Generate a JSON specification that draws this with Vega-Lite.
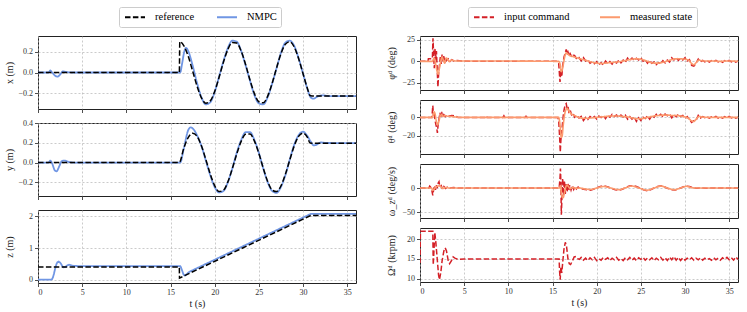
{
 "$schema": "https://vega.github.io/schema/vega-lite/v6.json",
 "padding": {"left": 3, "top": 6, "right": 5, "bottom": 4},
 "config": {
  "font": "Liberation Serif",
  "view": {"stroke": "#222", "strokeWidth": 1},
  "axis": {"grid": true, "gridDash": [2, 2], "gridColor": "#b5b5b5", "gridWidth": 0.7, "domain": false, "tickColor": "#222", "tickSize": 3.5, "tickWidth": 0.8, "labelFontSize": 8, "labelColor": "#333", "labelOverlap": false, "titleFontSize": 10, "titleFontWeight": "normal", "titleColor": "#222"},
  "axisY": {"minExtent": 21, "maxExtent": 21, "titlePadding": 3, "labelPadding": 2},
  "axisX": {"labelPadding": 2, "titlePadding": 2},
  "legend": {"orient": "none", "direction": "horizontal", "title": null, "symbolType": "M-2,0H2", "symbolSize": 100, "symbolStrokeWidth": 1.8, "labelFontSize": 10.5, "labelFontWeight": "normal", "labelColor": "#000", "padding": 4, "strokeColor": "#cccccc", "fillColor": "#ffffff", "cornerRadius": 2, "columnPadding": 18, "labelOffset": 14, "symbolOffset": 6}
 },
 "datasets": {
  "xr": [{"t":0,"v":0},{"t":16,"v":0},{"t":16.05,"v":0.3},{"t":16.5,"v":0.262},{"t":17,"v":0.159},{"t":17.5,"v":0.016},{"t":18,"v":-0.131},{"t":18.5,"v":-0.246},{"t":19,"v":-0.298},{"t":19.5,"v":-0.276},{"t":20,"v":-0.185},{"t":20.5,"v":-0.047},{"t":21,"v":0.103},{"t":21.5,"v":0.226},{"t":22,"v":0.293},{"t":22.5,"v":0.287},{"t":23,"v":0.208},{"t":23.5,"v":0.078},{"t":24,"v":-0.073},{"t":24.5,"v":-0.205},{"t":25,"v":-0.285},{"t":25.5,"v":-0.295},{"t":26,"v":-0.23},{"t":26.5,"v":-0.107},{"t":27,"v":0.042},{"t":27.5,"v":0.181},{"t":28,"v":0.274},{"t":28.5,"v":0.299},{"t":29,"v":0.249},{"t":29.5,"v":0.136},{"t":30,"v":-0.01},{"t":30.5,"v":-0.155},{"t":30.8,"v":-0.224},{"t":31,"v":-0.228},{"t":36,"v":-0.228}],
  "xn": [{"t":0,"v":0},{"t":1.2,"v":0},{"t":1.4,"v":0.02},{"t":1.6,"v":0},{"t":2.0,"v":-0.035},{"t":2.2,"v":-0.04},{"t":2.5,"v":-0.02},{"t":2.8,"v":0.01},{"t":3.2,"v":0.005},{"t":4,"v":0},{"t":16.1,"v":0},{"t":16.3,"v":0.08},{"t":16.55,"v":0.2},{"t":16.75,"v":0.24},{"t":17,"v":0.21},{"t":17.5,"v":0.07},{"t":18,"v":-0.1},{"t":18.5,"v":-0.24},{"t":19,"v":-0.31},{"t":19.5,"v":-0.29},{"t":20,"v":-0.19},{"t":20.5,"v":-0.04},{"t":21,"v":0.11},{"t":21.5,"v":0.24},{"t":22,"v":0.31},{"t":22.5,"v":0.3},{"t":23,"v":0.21},{"t":23.5,"v":0.07},{"t":24,"v":-0.08},{"t":24.5,"v":-0.22},{"t":25,"v":-0.3},{"t":25.5,"v":-0.31},{"t":26,"v":-0.24},{"t":26.5,"v":-0.11},{"t":27,"v":0.04},{"t":27.5,"v":0.19},{"t":28,"v":0.29},{"t":28.5,"v":0.31},{"t":29,"v":0.26},{"t":29.5,"v":0.14},{"t":30,"v":-0.01},{"t":30.5,"v":-0.16},{"t":30.9,"v":-0.245},{"t":31.2,"v":-0.255},{"t":31.6,"v":-0.235},{"t":32.2,"v":-0.222},{"t":33,"v":-0.23},{"t":36,"v":-0.23}],
  "yr": [{"t":0,"v":0},{"t":16,"v":0},{"t":16.5,"v":0.145},{"t":17,"v":0.254},{"t":17.5,"v":0.3},{"t":18,"v":0.27},{"t":18.5,"v":0.172},{"t":19,"v":0.031},{"t":19.5,"v":-0.117},{"t":20,"v":-0.236},{"t":20.5,"v":-0.296},{"t":21,"v":-0.282},{"t":21.5,"v":-0.197},{"t":22,"v":-0.062},{"t":22.5,"v":0.088},{"t":23,"v":0.216},{"t":23.5,"v":0.29},{"t":24,"v":0.291},{"t":24.5,"v":0.219},{"t":25,"v":0.093},{"t":25.5,"v":-0.057},{"t":26,"v":-0.193},{"t":26.5,"v":-0.28},{"t":27,"v":-0.297},{"t":27.5,"v":-0.24},{"t":28,"v":-0.122},{"t":28.5,"v":0.026},{"t":29,"v":0.168},{"t":29.5,"v":0.267},{"t":30,"v":0.3},{"t":30.5,"v":0.257},{"t":30.8,"v":0.199},{"t":31,"v":0.198},{"t":36,"v":0.198}],
  "yn": [{"t":0,"v":0},{"t":1.2,"v":0},{"t":1.4,"v":0.02},{"t":1.6,"v":-0.01},{"t":1.9,"v":-0.08},{"t":2.1,"v":-0.09},{"t":2.4,"v":-0.04},{"t":2.7,"v":0.015},{"t":3.0,"v":0.02},{"t":3.5,"v":0.005},{"t":4,"v":0},{"t":16.1,"v":0},{"t":16.5,"v":0.14},{"t":17,"v":0.33},{"t":17.3,"v":0.36},{"t":17.6,"v":0.34},{"t":18,"v":0.28},{"t":18.5,"v":0.17},{"t":19,"v":0.02},{"t":19.5,"v":-0.13},{"t":20,"v":-0.25},{"t":20.5,"v":-0.305},{"t":21,"v":-0.29},{"t":21.5,"v":-0.2},{"t":22,"v":-0.06},{"t":22.5,"v":0.1},{"t":23,"v":0.23},{"t":23.5,"v":0.31},{"t":24,"v":0.31},{"t":24.5,"v":0.23},{"t":25,"v":0.1},{"t":25.5,"v":-0.06},{"t":26,"v":-0.2},{"t":26.5,"v":-0.29},{"t":27,"v":-0.31},{"t":27.5,"v":-0.25},{"t":28,"v":-0.13},{"t":28.5,"v":0.03},{"t":29,"v":0.18},{"t":29.5,"v":0.28},{"t":30,"v":0.315},{"t":30.5,"v":0.27},{"t":30.9,"v":0.21},{"t":31.2,"v":0.175},{"t":31.5,"v":0.18},{"t":32,"v":0.205},{"t":32.6,"v":0.2},{"t":36,"v":0.198}],
  "zr": [{"t":0,"v":0.4},{"t":16,"v":0.4},{"t":16.02,"v":0.05},{"t":30.9,"v":2.03},{"t":36,"v":2.03}],
  "zn": [{"t":0,"v":0},{"t":1.5,"v":0},{"t":1.6,"v":0.02},{"t":1.7,"v":0.08},{"t":1.8,"v":0.18},{"t":1.9,"v":0.3},{"t":2.0,"v":0.41},{"t":2.1,"v":0.5},{"t":2.2,"v":0.55},{"t":2.35,"v":0.57},{"t":2.5,"v":0.54},{"t":2.6,"v":0.5},{"t":2.75,"v":0.43},{"t":2.9,"v":0.39},{"t":3.1,"v":0.4},{"t":3.3,"v":0.45},{"t":3.5,"v":0.47},{"t":3.7,"v":0.46},{"t":3.9,"v":0.44},{"t":4.5,"v":0.43},{"t":16.1,"v":0.43},{"t":16.2,"v":0.38},{"t":16.3,"v":0.3},{"t":16.45,"v":0.18},{"t":16.55,"v":0.14},{"t":16.65,"v":0.13},{"t":16.75,"v":0.15},{"t":16.9,"v":0.19},{"t":17,"v":0.22},{"t":17.3,"v":0.27},{"t":30.9,"v":2.08},{"t":36,"v":2.08}],
  "pc": [{"t":0,"v":0},{"t":0.9,"v":0},{"t":0.95,"v":3},{"t":1.4,"v":3},{"t":1.47,"v":27},{"t":1.55,"v":5},{"t":1.62,"v":-8},{"t":1.7,"v":15},{"t":1.78,"v":2},{"t":1.86,"v":12},{"t":1.95,"v":-10},{"t":2.03,"v":-30},{"t":2.12,"v":-12},{"t":2.2,"v":-5},{"t":2.3,"v":5},{"t":2.4,"v":-3},{"t":2.5,"v":8},{"t":2.6,"v":0},{"t":2.7,"v":6},{"t":2.8,"v":-2},{"t":2.9,"v":5},{"t":3.0,"v":1},{"t":3.2,"v":3},{"t":3.4,"v":0},{"t":3.6,"v":2},{"t":3.8,"v":0.5},{"t":4.2,"v":1},{"t":5,"v":0.3},{"t":15.5,"v":0},{"t":15.7,"v":-2},{"t":15.85,"v":-24},{"t":15.95,"v":-10},{"t":16.05,"v":-18},{"t":16.15,"v":-5},{"t":16.3,"v":5},{"t":16.45,"v":10},{"t":16.55,"v":14},{"t":16.65,"v":8},{"t":16.75,"v":11},{"t":16.9,"v":6},{"t":17.0,"v":9},{"t":17.2,"v":5},{"t":17.35,"v":7},{"t":17.5,"v":6.8},{"t":17.75,"v":2.6},{"t":18,"v":4.4},{"t":18.25,"v":0.6},{"t":18.5,"v":4.3},{"t":18.75,"v":0.4},{"t":19,"v":1.9},{"t":19.25,"v":-2.1},{"t":19.5,"v":-0.4},{"t":19.75,"v":-2.7},{"t":20,"v":-0.2},{"t":20.25,"v":-3.8},{"t":20.5,"v":-1.6},{"t":20.75,"v":-4.3},{"t":21,"v":0.3},{"t":21.25,"v":-2.5},{"t":21.5,"v":-0.1},{"t":21.75,"v":-3.1},{"t":22,"v":-0.4},{"t":22.25,"v":-1.9},{"t":22.5,"v":1.3},{"t":22.75,"v":-1.6},{"t":23,"v":1.4},{"t":23.25,"v":-1.1},{"t":23.5,"v":3.8},{"t":23.75,"v":1.2},{"t":24,"v":3.9},{"t":24.25,"v":0.85},{"t":24.5,"v":3.6},{"t":24.75,"v":1.55},{"t":25,"v":4.3},{"t":25.25,"v":0.15},{"t":25.5,"v":1.9},{"t":25.75,"v":-2.1},{"t":26,"v":1.3},{"t":26.25,"v":-2.3},{"t":26.5,"v":-0.6},{"t":26.75,"v":-3.9},{"t":27,"v":-1.4},{"t":27.25,"v":-2.7},{"t":27.5,"v":0.8},{"t":27.75,"v":-1.85},{"t":28,"v":1.4},{"t":28.25,"v":-0.85},{"t":28.5,"v":4.3},{"t":28.75,"v":1.7},{"t":29,"v":4.4},{"t":29.25,"v":1.1},{"t":29.5,"v":3.6},{"t":29.75,"v":1.55},{"t":30,"v":4.3},{"t":30.25,"v":0.4},{"t":30.5,"v":2.1},{"t":30.75,"v":-4.6},{"t":31,"v":-5.5},{"t":31.25,"v":-2.3},{"t":31.5,"v":2.6},{"t":31.75,"v":-0.8},{"t":32,"v":1.2},{"t":32.25,"v":-0.5},{"t":32.5,"v":1.0},{"t":32.75,"v":-0.9},{"t":33,"v":0.8},{"t":33.25,"v":-0.4},{"t":33.5,"v":1.1},{"t":33.75,"v":-0.7},{"t":34,"v":0.6},{"t":34.25,"v":-1.0},{"t":34.5,"v":0.9},{"t":34.75,"v":-0.3},{"t":35,"v":1.2},{"t":35.25,"v":-0.6},{"t":35.5,"v":0.8},{"t":35.75,"v":-0.9},{"t":36,"v":0.4}],
  "pm": [{"t":0,"v":0},{"t":1.4,"v":0},{"t":1.5,"v":2},{"t":1.6,"v":4},{"t":1.75,"v":-2},{"t":1.9,"v":-10},{"t":2.05,"v":-15},{"t":2.2,"v":-8},{"t":2.35,"v":0},{"t":2.5,"v":5},{"t":2.65,"v":1},{"t":2.8,"v":-2},{"t":2.95,"v":4},{"t":3.1,"v":3},{"t":3.3,"v":0},{"t":3.6,"v":1.5},{"t":4,"v":0.5},{"t":5,"v":0.5},{"t":15.7,"v":0},{"t":15.85,"v":-3},{"t":16.0,"v":-12},{"t":16.1,"v":-10},{"t":16.25,"v":-2},{"t":16.4,"v":6},{"t":16.55,"v":10},{"t":16.7,"v":9},{"t":16.9,"v":7},{"t":17.2,"v":6},{"t":17.5,"v":5},{"t":18,"v":3.5},{"t":18.5,"v":2},{"t":19,"v":0.5},{"t":19.5,"v":-1},{"t":20,"v":-2},{"t":20.5,"v":-2.5},{"t":21,"v":-2},{"t":21.5,"v":-1.5},{"t":22,"v":-1},{"t":22.5,"v":-0.5},{"t":23,"v":0.5},{"t":23.5,"v":1.5},{"t":24,"v":2.5},{"t":24.5,"v":3},{"t":25,"v":2.5},{"t":25.5,"v":1},{"t":26,"v":-1},{"t":26.5,"v":-2},{"t":27,"v":-2},{"t":27.5,"v":-1},{"t":28,"v":0.5},{"t":28.5,"v":2},{"t":29,"v":3},{"t":29.5,"v":3},{"t":30,"v":2.5},{"t":30.4,"v":1.5},{"t":30.7,"v":-2},{"t":31.0,"v":-4},{"t":31.3,"v":-1},{"t":31.6,"v":1.5},{"t":32,"v":0.5},{"t":33,"v":0.5},{"t":34,"v":0},{"t":35,"v":0.5},{"t":36,"v":0}],
  "tc": [{"t":0,"v":0},{"t":1.35,"v":0},{"t":1.45,"v":13},{"t":1.52,"v":2},{"t":1.6,"v":6},{"t":1.7,"v":-3},{"t":1.8,"v":-8},{"t":1.9,"v":-12},{"t":1.97,"v":-17},{"t":2.05,"v":-8},{"t":2.15,"v":-2},{"t":2.25,"v":5},{"t":2.35,"v":1},{"t":2.45,"v":6},{"t":2.55,"v":0},{"t":2.7,"v":3},{"t":2.85,"v":1},{"t":3.0,"v":2.5},{"t":3.3,"v":1.5},{"t":3.6,"v":2},{"t":4.0,"v":1.5},{"t":4.3,"v":0},{"t":7.4,"v":0},{"t":7.5,"v":1.5},{"t":7.6,"v":0},{"t":9.4,"v":0},{"t":9.5,"v":1.8},{"t":9.6,"v":0},{"t":11.9,"v":0},{"t":12.0,"v":1.2},{"t":12.1,"v":0},{"t":15.6,"v":0},{"t":15.7,"v":-3},{"t":15.8,"v":-20},{"t":15.88,"v":-38},{"t":15.95,"v":-25},{"t":16.05,"v":-15},{"t":16.15,"v":-5},{"t":16.25,"v":5},{"t":16.35,"v":10},{"t":16.45,"v":14},{"t":16.55,"v":15},{"t":16.65,"v":10},{"t":16.75,"v":12},{"t":16.85,"v":6},{"t":17.0,"v":8},{"t":17.15,"v":3},{"t":17.3,"v":5},{"t":17.5,"v":0.1},{"t":17.75,"v":2.2},{"t":18,"v":-0.7},{"t":18.25,"v":1.1},{"t":18.5,"v":-3.4},{"t":18.75,"v":-0.1},{"t":19,"v":-2.3},{"t":19.25,"v":0.95},{"t":19.5,"v":-1.0},{"t":19.75,"v":0.85},{"t":20,"v":-1.9},{"t":20.25,"v":1.45},{"t":20.5,"v":-0.2},{"t":20.75,"v":2.35},{"t":21,"v":-1.4},{"t":21.25,"v":2.15},{"t":21.5,"v":0.2},{"t":21.75,"v":3.2},{"t":22,"v":1.0},{"t":22.25,"v":2.6},{"t":22.5,"v":-0.4},{"t":22.75,"v":2.45},{"t":23,"v":0.3},{"t":23.25,"v":2.35},{"t":23.5,"v":-1.9},{"t":23.75,"v":0.9},{"t":24,"v":-1.8},{"t":24.25,"v":0.7},{"t":24.5,"v":-4.5},{"t":24.75,"v":-0.4},{"t":25,"v":-3.4},{"t":25.25,"v":0.2},{"t":25.5,"v":-1.2},{"t":25.75,"v":1.6},{"t":26,"v":-1.9},{"t":26.25,"v":1.9},{"t":26.5,"v":0.2},{"t":26.75,"v":3.45},{"t":27,"v":1.5},{"t":27.25,"v":3.35},{"t":27.5,"v":0.6},{"t":27.75,"v":3.7},{"t":28,"v":1.8},{"t":28.25,"v":3.85},{"t":28.5,"v":-0.4},{"t":28.75,"v":2.9},{"t":29,"v":0.7},{"t":29.25,"v":3.45},{"t":29.5,"v":1.0},{"t":29.75,"v":2.1},{"t":30,"v":-1.4},{"t":30.25,"v":0.9},{"t":30.5,"v":-2.5},{"t":30.75,"v":-5.5},{"t":31,"v":-3.6},{"t":31.25,"v":-3.3},{"t":31.5,"v":2.2},{"t":31.75,"v":-0.6},{"t":32,"v":0.9},{"t":32.25,"v":-0.4},{"t":32.5,"v":0.8},{"t":32.75,"v":-0.9},{"t":33,"v":0.6},{"t":33.25,"v":-0.3},{"t":33.5,"v":1.0},{"t":33.75,"v":-0.7},{"t":34,"v":0.5},{"t":34.25,"v":-0.8},{"t":34.5,"v":0.9},{"t":34.75,"v":-0.2},{"t":35,"v":1.0},{"t":35.25,"v":-0.5},{"t":35.5,"v":0.7},{"t":35.75,"v":-0.8},{"t":36,"v":0.3}],
  "tm": [{"t":0,"v":0},{"t":1.4,"v":0},{"t":1.5,"v":3},{"t":1.6,"v":6},{"t":1.7,"v":4},{"t":1.85,"v":-4},{"t":2.0,"v":-8},{"t":2.15,"v":-4},{"t":2.3,"v":2},{"t":2.45,"v":3},{"t":2.6,"v":1},{"t":2.8,"v":2},{"t":3.0,"v":1.5},{"t":3.5,"v":1},{"t":4.2,"v":0.3},{"t":5,"v":0},{"t":15.7,"v":0},{"t":15.85,"v":-8},{"t":16.0,"v":-22},{"t":16.1,"v":-20},{"t":16.2,"v":-10},{"t":16.35,"v":2},{"t":16.5,"v":8},{"t":16.65,"v":10},{"t":16.8,"v":8},{"t":17.0,"v":5},{"t":17.25,"v":3},{"t":17.5,"v":2},{"t":18,"v":0},{"t":18.5,"v":-1},{"t":19,"v":-1},{"t":19.5,"v":-0.5},{"t":20,"v":0},{"t":20.5,"v":0.5},{"t":21,"v":1},{"t":21.5,"v":1.5},{"t":22,"v":1.5},{"t":22.5,"v":1.5},{"t":23,"v":1},{"t":23.5,"v":0.5},{"t":24,"v":-0.5},{"t":24.5,"v":-1.5},{"t":25,"v":-1.5},{"t":25.5,"v":-0.5},{"t":26,"v":0.5},{"t":26.5,"v":1.5},{"t":27,"v":2},{"t":27.5,"v":2.5},{"t":28,"v":2.5},{"t":28.5,"v":2},{"t":29,"v":2},{"t":29.5,"v":1.5},{"t":30,"v":0.5},{"t":30.4,"v":-1},{"t":30.7,"v":-3.5},{"t":31.0,"v":-4.5},{"t":31.3,"v":-1.5},{"t":31.6,"v":1},{"t":32,"v":0.3},{"t":33,"v":0},{"t":36,"v":0}],
  "wc": [{"t":0,"v":0},{"t":1.0,"v":0},{"t":1.1,"v":4},{"t":1.2,"v":2},{"t":1.35,"v":-6},{"t":1.45,"v":-15},{"t":1.55,"v":-3},{"t":1.65,"v":5},{"t":1.75,"v":-4},{"t":1.85,"v":6},{"t":1.95,"v":0},{"t":2.05,"v":10},{"t":2.15,"v":13},{"t":2.25,"v":2},{"t":2.4,"v":5},{"t":2.55,"v":-2},{"t":2.7,"v":3},{"t":2.9,"v":-1},{"t":3.1,"v":2},{"t":3.4,"v":0},{"t":3.8,"v":1},{"t":4.2,"v":0},{"t":15.75,"v":0},{"t":15.85,"v":20},{"t":15.9,"v":40},{"t":15.95,"v":10},{"t":16.0,"v":-55},{"t":16.05,"v":-30},{"t":16.15,"v":20},{"t":16.25,"v":-15},{"t":16.35,"v":15},{"t":16.45,"v":-12},{"t":16.55,"v":10},{"t":16.65,"v":-8},{"t":16.75,"v":9},{"t":16.85,"v":-6},{"t":16.95,"v":6},{"t":17.1,"v":-4},{"t":17.25,"v":5},{"t":17.4,"v":-3},{"t":17.55,"v":3},{"t":17.7,"v":-2},{"t":17.9,"v":2},{"t":18.1,"v":-1},{"t":18.5,"v":-2.5},{"t":18.9,"v":-3.5},{"t":19.3,"v":-4.5},{"t":19.7,"v":-2},{"t":20.1,"v":1},{"t":20.5,"v":3.5},{"t":20.9,"v":4},{"t":21.3,"v":2},{"t":21.7,"v":-1},{"t":22.1,"v":-3.5},{"t":22.5,"v":-4.5},{"t":22.9,"v":-2.5},{"t":23.3,"v":1},{"t":23.7,"v":4},{"t":24.1,"v":5},{"t":24.5,"v":3},{"t":24.9,"v":0},{"t":25.3,"v":-3.5},{"t":25.7,"v":-5.5},{"t":26.1,"v":-3.5},{"t":26.5,"v":0},{"t":26.9,"v":3},{"t":27.3,"v":4.5},{"t":27.7,"v":2},{"t":28.1,"v":-1},{"t":28.5,"v":-3.5},{"t":28.9,"v":-4},{"t":29.3,"v":-1.5},{"t":29.7,"v":1.5},{"t":30.1,"v":4},{"t":30.5,"v":3},{"t":30.9,"v":0.5},{"t":31.3,"v":-0.5},{"t":31.7,"v":0.3},{"t":32.5,"v":-0.3},{"t":33.5,"v":0.2},{"t":34.5,"v":-0.2},{"t":36,"v":0}],
  "wm": [{"t":0,"v":0},{"t":1.3,"v":0},{"t":1.45,"v":-5},{"t":1.6,"v":-2},{"t":1.8,"v":2},{"t":2.0,"v":4},{"t":2.2,"v":5},{"t":2.4,"v":2},{"t":2.6,"v":-1},{"t":2.9,"v":1},{"t":3.3,"v":0},{"t":15.8,"v":0},{"t":15.9,"v":5},{"t":16.0,"v":-8},{"t":16.1,"v":-18},{"t":16.2,"v":-20},{"t":16.35,"v":-10},{"t":16.5,"v":2},{"t":16.65,"v":6},{"t":16.8,"v":3},{"t":17.0,"v":-1},{"t":17.3,"v":1},{"t":17.7,"v":-0.5},{"t":18.1,"v":0},{"t":18.7,"v":-2},{"t":19.3,"v":-3},{"t":20.0,"v":0},{"t":20.8,"v":3},{"t":21.6,"v":0},{"t":22.5,"v":-3.5},{"t":23.2,"v":0},{"t":24.0,"v":4},{"t":24.8,"v":0},{"t":25.7,"v":-4.5},{"t":26.5,"v":0},{"t":27.3,"v":4},{"t":28.0,"v":0},{"t":28.8,"v":-3.5},{"t":29.5,"v":0},{"t":30.2,"v":3.5},{"t":30.8,"v":0.5},{"t":31.5,"v":0},{"t":36,"v":0}],
  "oc": [{"t":0,"v":14},{"t":0.05,"v":22},{"t":1.45,"v":22},{"t":1.5,"v":13.5},{"t":1.6,"v":18},{"t":1.68,"v":21.6},{"t":1.8,"v":19},{"t":1.95,"v":15},{"t":2.1,"v":11},{"t":2.2,"v":9.8},{"t":2.35,"v":11.5},{"t":2.5,"v":14.5},{"t":2.7,"v":17},{"t":2.85,"v":17.8},{"t":3.0,"v":17},{"t":3.2,"v":14.5},{"t":3.35,"v":13.8},{"t":3.55,"v":14.5},{"t":3.75,"v":15.5},{"t":3.95,"v":15.2},{"t":4.3,"v":14.9},{"t":5,"v":15},{"t":15.75,"v":15},{"t":15.8,"v":12},{"t":15.87,"v":9.8},{"t":15.95,"v":13},{"t":16.05,"v":11.5},{"t":16.15,"v":14},{"t":16.3,"v":17.5},{"t":16.45,"v":19.2},{"t":16.6,"v":18},{"t":16.75,"v":15},{"t":16.9,"v":13.8},{"t":17.05,"v":13.6},{"t":17.25,"v":14.5},{"t":17.45,"v":15.5},{"t":17.65,"v":15.6},{"t":17.85,"v":15.1},{"t":18.05,"v":14.9},{"t":18.25,"v":15.4},{"t":18.5,"v":14.7},{"t":18.75,"v":15.2},{"t":19,"v":14.6},{"t":19.25,"v":15.3},{"t":19.5,"v":14.8},{"t":19.75,"v":15.4},{"t":20,"v":14.6},{"t":20.25,"v":15.1},{"t":20.5,"v":14.7},{"t":20.75,"v":15.4},{"t":21,"v":14.9},{"t":21.25,"v":15.3},{"t":21.5,"v":14.6},{"t":21.75,"v":15.2},{"t":22,"v":14.8},{"t":22.25,"v":15.4},{"t":22.5,"v":14.7},{"t":22.75,"v":15.1},{"t":23,"v":14.6},{"t":23.25,"v":15.3},{"t":23.5,"v":14.8},{"t":23.75,"v":15.4},{"t":24,"v":14.7},{"t":24.25,"v":15.2},{"t":24.5,"v":14.6},{"t":24.75,"v":15.3},{"t":25,"v":14.9},{"t":25.25,"v":15.4},{"t":25.5,"v":14.7},{"t":25.75,"v":15.2},{"t":26,"v":14.8},{"t":26.25,"v":15.3},{"t":26.5,"v":14.6},{"t":26.75,"v":15.2},{"t":27,"v":14.8},{"t":27.25,"v":15.4},{"t":27.5,"v":14.7},{"t":27.75,"v":15.3},{"t":28,"v":14.6},{"t":28.25,"v":15.5},{"t":28.5,"v":14.8},{"t":28.75,"v":15.6},{"t":29,"v":14.7},{"t":29.25,"v":15.4},{"t":29.5,"v":14.6},{"t":29.75,"v":15.3},{"t":30,"v":14.7},{"t":30.25,"v":15.2},{"t":30.5,"v":14.8},{"t":30.75,"v":15.3},{"t":31,"v":14.7},{"t":31.25,"v":15.2},{"t":31.5,"v":14.8},{"t":31.75,"v":15.3},{"t":32,"v":14.7},{"t":32.25,"v":15.2},{"t":32.5,"v":14.8},{"t":32.75,"v":15.1},{"t":33,"v":14.7},{"t":33.25,"v":15.3},{"t":33.5,"v":14.8},{"t":33.75,"v":15.2},{"t":34,"v":14.7},{"t":34.25,"v":15.3},{"t":34.5,"v":14.9},{"t":34.75,"v":15.4},{"t":35,"v":14.8},{"t":35.25,"v":15.3},{"t":35.5,"v":14.7},{"t":35.75,"v":15.5},{"t":36,"v":14.9}]
 },
 "spacing": 28,
 "resolve": {"scale": {"color": "independent", "strokeDash": "independent"}},
 "hconcat": [
  {
   "vconcat": [
    {"width": 318, "height": 73,
     "layer": [
      {"data": {"name": "xn"}, "mark": {"type": "line", "interpolate": "monotone", "clip": true, "strokeWidth": 1.8},
       "encoding": {"x": {"field": "t", "type": "quantitative", "scale": {"domain": [0, 36], "nice": false}, "axis": {"values": [0,5,10,15,20,25,30,35], "labels": false, "title": null}},
        "y": {"field": "v", "type": "quantitative", "scale": {"domain": [-0.355, 0.355], "nice": false, "zero": false}, "axis": {"values": [-0.2, 0, 0.2], "format": ".1f", "title": "x (m)"}},
        "color": {"datum": "NMPC", "scale": {"domain": ["reference", "NMPC"], "range": ["#000000", "#7096e4"]}, "legend": {"legendX": 81, "legendY": -29}},
        "strokeDash": {"datum": "NMPC", "scale": {"domain": ["reference", "NMPC"], "range": [[5.5, 2.4], [1, 0]]}, "legend": {"legendX": 81, "legendY": -29}}}},
      {"data": {"name": "xr"}, "mark": {"type": "line", "interpolate": "monotone", "clip": true, "strokeWidth": 1.5},
       "encoding": {"x": {"field": "t", "type": "quantitative", "scale": {"domain": [0, 36], "nice": false}, "axis": {"values": [0,5,10,15,20,25,30,35], "labels": false, "title": null}},
        "y": {"field": "v", "type": "quantitative", "scale": {"domain": [-0.355, 0.355], "nice": false, "zero": false}, "axis": {"values": [-0.2, 0, 0.2], "format": ".1f", "title": "x (m)"}},
        "color": {"datum": "reference"}, "strokeDash": {"datum": "reference"}}}
     ]},
    {"width": 318, "height": 73,
     "layer": [
      {"data": {"name": "yn"}, "mark": {"type": "line", "interpolate": "monotone", "clip": true, "strokeWidth": 1.8},
       "encoding": {"x": {"field": "t", "type": "quantitative", "scale": {"domain": [0, 36], "nice": false}, "axis": {"values": [0,5,10,15,20,25,30,35], "labels": false, "title": null}},
        "y": {"field": "v", "type": "quantitative", "scale": {"domain": [-0.342, 0.404], "nice": false, "zero": false}, "axis": {"values": [-0.2, 0, 0.2, 0.4], "format": ".1f", "title": "y (m)"}},
        "color": {"datum": "NMPC", "scale": {"domain": ["reference", "NMPC"], "range": ["#000000", "#7096e4"]}, "legend": null},
        "strokeDash": {"datum": "NMPC", "scale": {"domain": ["reference", "NMPC"], "range": [[5.5, 2.4], [1, 0]]}, "legend": null}}},
      {"data": {"name": "yr"}, "mark": {"type": "line", "interpolate": "monotone", "clip": true, "strokeWidth": 1.5},
       "encoding": {"x": {"field": "t", "type": "quantitative", "scale": {"domain": [0, 36], "nice": false}, "axis": {"values": [0,5,10,15,20,25,30,35], "labels": false, "title": null}},
        "y": {"field": "v", "type": "quantitative", "scale": {"domain": [-0.342, 0.404], "nice": false, "zero": false}, "axis": {"values": [-0.2, 0, 0.2, 0.4], "format": ".1f", "title": "y (m)"}},
        "color": {"datum": "reference"}, "strokeDash": {"datum": "reference"}}}
     ]},
    {"width": 318, "height": 73,
     "layer": [
      {"data": {"name": "zn"}, "mark": {"type": "line", "clip": true, "strokeWidth": 1.8},
       "encoding": {"x": {"field": "t", "type": "quantitative", "scale": {"domain": [0, 36], "nice": false}, "axis": {"values": [0,5,10,15,20,25,30,35], "title": "t (s)"}},
        "y": {"field": "v", "type": "quantitative", "scale": {"domain": [-0.105, 2.2], "nice": false, "zero": false}, "axis": {"values": [0, 1, 2], "format": "d", "title": "z (m)"}},
        "color": {"datum": "NMPC", "scale": {"domain": ["reference", "NMPC"], "range": ["#000000", "#7096e4"]}, "legend": null},
        "strokeDash": {"datum": "NMPC", "scale": {"domain": ["reference", "NMPC"], "range": [[5.5, 2.4], [1, 0]]}, "legend": null}}},
      {"data": {"name": "zr"}, "mark": {"type": "line", "clip": true, "strokeWidth": 1.5},
       "encoding": {"x": {"field": "t", "type": "quantitative", "scale": {"domain": [0, 36], "nice": false}, "axis": {"values": [0,5,10,15,20,25,30,35], "title": "t (s)"}},
        "y": {"field": "v", "type": "quantitative", "scale": {"domain": [-0.105, 2.2], "nice": false, "zero": false}, "axis": {"values": [0, 1, 2], "format": "d", "title": "z (m)"}},
        "color": {"datum": "reference"}, "strokeDash": {"datum": "reference"}}}
     ]}
   ],
   "spacing": 14,
   "bounds": "flush",
   "resolve": {"scale": {"color": "independent", "strokeDash": "independent"}}
  },
  {
   "vconcat": [
    {"width": 318, "height": 54,
     "layer": [
      {"data": {"name": "pc"}, "mark": {"type": "line", "clip": true, "strokeWidth": 1.5},
       "encoding": {"x": {"field": "t", "type": "quantitative", "scale": {"domain": [0, 36], "nice": false}, "axis": {"values": [0,5,10,15,20,25,30,35], "labels": false, "title": null}},
        "y": {"field": "v", "type": "quantitative", "scale": {"domain": [-33.4, 29.6], "nice": false, "zero": false}, "axis": {"values": [-25, 0, 25], "title": "φᵈ (deg)"}},
        "color": {"datum": "input command", "scale": {"domain": ["input command", "measured state"], "range": ["#d42027", "#fc9a6e"]}, "legend": {"legendX": 48, "legendY": -29, "columnPadding": 26}},
        "strokeDash": {"datum": "input command", "scale": {"domain": ["input command", "measured state"], "range": [[5.5, 2.4], [1, 0]]}, "legend": {"legendX": 48, "legendY": -29, "columnPadding": 26}}}},
      {"data": {"name": "pm"}, "mark": {"type": "line", "interpolate": "monotone", "clip": true, "strokeWidth": 1.6},
       "encoding": {"x": {"field": "t", "type": "quantitative", "scale": {"domain": [0, 36], "nice": false}, "axis": {"values": [0,5,10,15,20,25,30,35], "labels": false, "title": null}},
        "y": {"field": "v", "type": "quantitative", "scale": {"domain": [-33.4, 29.6], "nice": false, "zero": false}, "axis": {"values": [-25, 0, 25], "title": "φᵈ (deg)"}},
        "color": {"datum": "measured state"}, "strokeDash": {"datum": "measured state"}}}
     ]},
    {"width": 318, "height": 54,
     "layer": [
      {"data": {"name": "tc"}, "mark": {"type": "line", "clip": true, "strokeWidth": 1.5},
       "encoding": {"x": {"field": "t", "type": "quantitative", "scale": {"domain": [0, 36], "nice": false}, "axis": {"values": [0,5,10,15,20,25,30,35], "labels": false, "title": null}},
        "y": {"field": "v", "type": "quantitative", "scale": {"domain": [-40, 19], "nice": false, "zero": false}, "axis": {"values": [-20, 0], "title": "θᵈ (deg)"}},
        "color": {"datum": "input command", "scale": {"domain": ["input command", "measured state"], "range": ["#d42027", "#fc9a6e"]}, "legend": null},
        "strokeDash": {"datum": "input command", "scale": {"domain": ["input command", "measured state"], "range": [[5.5, 2.4], [1, 0]]}, "legend": null}}},
      {"data": {"name": "tm"}, "mark": {"type": "line", "interpolate": "monotone", "clip": true, "strokeWidth": 1.6},
       "encoding": {"x": {"field": "t", "type": "quantitative", "scale": {"domain": [0, 36], "nice": false}, "axis": {"values": [0,5,10,15,20,25,30,35], "labels": false, "title": null}},
        "y": {"field": "v", "type": "quantitative", "scale": {"domain": [-40, 19], "nice": false, "zero": false}, "axis": {"values": [-20, 0], "title": "θᵈ (deg)"}},
        "color": {"datum": "measured state"}, "strokeDash": {"datum": "measured state"}}}
     ]},
    {"width": 318, "height": 54,
     "layer": [
      {"data": {"name": "wc"}, "mark": {"type": "line", "clip": true, "strokeWidth": 1.5},
       "encoding": {"x": {"field": "t", "type": "quantitative", "scale": {"domain": [0, 36], "nice": false}, "axis": {"values": [0,5,10,15,20,25,30,35], "labels": false, "title": null}},
        "y": {"field": "v", "type": "quantitative", "scale": {"domain": [-61.7, 49.4], "nice": false, "zero": false}, "axis": {"values": [-50, 0], "title": "ω_zᵈ (deg/s)"}},
        "color": {"datum": "input command", "scale": {"domain": ["input command", "measured state"], "range": ["#d42027", "#fc9a6e"]}, "legend": null},
        "strokeDash": {"datum": "input command", "scale": {"domain": ["input command", "measured state"], "range": [[5.5, 2.4], [1, 0]]}, "legend": null}}},
      {"data": {"name": "wm"}, "mark": {"type": "line", "interpolate": "monotone", "clip": true, "strokeWidth": 1.6},
       "encoding": {"x": {"field": "t", "type": "quantitative", "scale": {"domain": [0, 36], "nice": false}, "axis": {"values": [0,5,10,15,20,25,30,35], "labels": false, "title": null}},
        "y": {"field": "v", "type": "quantitative", "scale": {"domain": [-61.7, 49.4], "nice": false, "zero": false}, "axis": {"values": [-50, 0], "title": "ω_zᵈ (deg/s)"}},
        "color": {"datum": "measured state"}, "strokeDash": {"datum": "measured state"}}}
     ]},
    {"width": 318, "height": 54,
     "layer": [
      {"data": {"name": "oc"}, "mark": {"type": "line", "clip": true, "strokeWidth": 1.5},
       "encoding": {"x": {"field": "t", "type": "quantitative", "scale": {"domain": [0, 36], "nice": false}, "axis": {"values": [0,5,10,15,20,25,30,35], "title": "t (s)"}},
        "y": {"field": "v", "type": "quantitative", "scale": {"domain": [9.2, 22.8], "nice": false, "zero": false}, "axis": {"values": [10, 15, 20], "title": "Ωᵈ (krpm)"}},
        "color": {"datum": "input command", "scale": {"domain": ["input command", "measured state"], "range": ["#d42027", "#fc9a6e"]}, "legend": null},
        "strokeDash": {"datum": "input command", "scale": {"domain": ["input command", "measured state"], "range": [[5.5, 2.4], [1, 0]]}, "legend": null}}}
     ]}
   ],
   "spacing": 10,
   "bounds": "flush",
   "resolve": {"scale": {"color": "independent", "strokeDash": "independent"}}
  }
 ]
}
